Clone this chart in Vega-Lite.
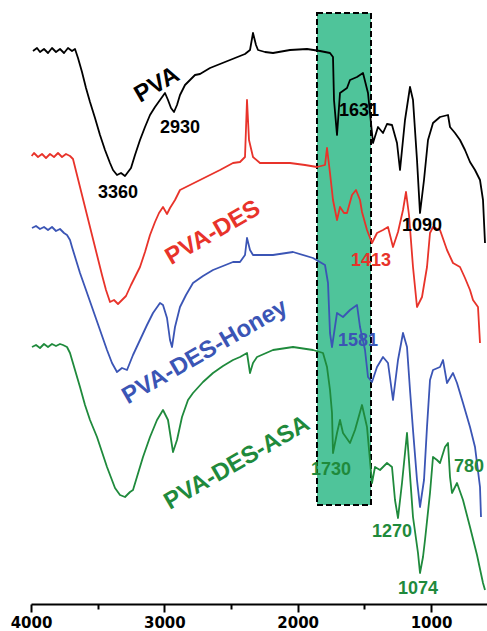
{
  "$schema": "https://vega.github.io/schema/vega-lite/v6.json",
  "width": 456,
  "height": 604,
  "autosize": {"type": "none"},
  "padding": {"left": 31, "top": 0, "right": 0, "bottom": 27},
  "background": "white",
  "config": {"view": {"stroke": null}},
  "datasets": {
    "box": [{"x1": 1855, "x2": 1450, "y1": 591, "y2": 99}],
    "spectra": [
      {"series": "PVA", "wn": 3985, "t": 553}, {"series": "PVA", "wn": 3955, "t": 556}, {"series": "PVA", "wn": 3932.5, "t": 552}, {"series": "PVA", "wn": 3902.5, "t": 555}, {"series": "PVA", "wn": 3872.5, "t": 551}, {"series": "PVA", "wn": 3842.5, "t": 556}, {"series": "PVA", "wn": 3812.5, "t": 552}, {"series": "PVA", "wn": 3782.5, "t": 555}, {"series": "PVA", "wn": 3752.5, "t": 551}, {"series": "PVA", "wn": 3722.5, "t": 556}, {"series": "PVA", "wn": 3692.5, "t": 553}, {"series": "PVA", "wn": 3670, "t": 555}, {"series": "PVA", "wn": 3647.5, "t": 546}, {"series": "PVA", "wn": 3617.5, "t": 532}, {"series": "PVA", "wn": 3587.5, "t": 516}, {"series": "PVA", "wn": 3557.5, "t": 502}, {"series": "PVA", "wn": 3520, "t": 486}, {"series": "PVA", "wn": 3482.5, "t": 469}, {"series": "PVA", "wn": 3445, "t": 454}, {"series": "PVA", "wn": 3407.5, "t": 441}, {"series": "PVA", "wn": 3385, "t": 434}, {"series": "PVA", "wn": 3355, "t": 429}, {"series": "PVA", "wn": 3325, "t": 431}, {"series": "PVA", "wn": 3295, "t": 428}, {"series": "PVA", "wn": 3272.5, "t": 432}, {"series": "PVA", "wn": 3250, "t": 436}, {"series": "PVA", "wn": 3220, "t": 449}, {"series": "PVA", "wn": 3182.5, "t": 464}, {"series": "PVA", "wn": 3145, "t": 477}, {"series": "PVA", "wn": 3107.5, "t": 489}, {"series": "PVA", "wn": 3070, "t": 497}, {"series": "PVA", "wn": 3032.5, "t": 504}, {"series": "PVA", "wn": 2995, "t": 511}, {"series": "PVA", "wn": 2972.5, "t": 504}, {"series": "PVA", "wn": 2950, "t": 496}, {"series": "PVA", "wn": 2927.5, "t": 492}, {"series": "PVA", "wn": 2905, "t": 499}, {"series": "PVA", "wn": 2882.5, "t": 509}, {"series": "PVA", "wn": 2845, "t": 519}, {"series": "PVA", "wn": 2807.5, "t": 524}, {"series": "PVA", "wn": 2770, "t": 529}, {"series": "PVA", "wn": 2732.5, "t": 530}, {"series": "PVA", "wn": 2657.5, "t": 536}, {"series": "PVA", "wn": 2582.5, "t": 540}, {"series": "PVA", "wn": 2507.5, "t": 544}, {"series": "PVA", "wn": 2432.5, "t": 548}, {"series": "PVA", "wn": 2395, "t": 550}, {"series": "PVA", "wn": 2357.5, "t": 554}, {"series": "PVA", "wn": 2335, "t": 571}, {"series": "PVA", "wn": 2312.5, "t": 559}, {"series": "PVA", "wn": 2297.5, "t": 554}, {"series": "PVA", "wn": 2245, "t": 552}, {"series": "PVA", "wn": 2185, "t": 551}, {"series": "PVA", "wn": 2057.5, "t": 554}, {"series": "PVA", "wn": 1930, "t": 555}, {"series": "PVA", "wn": 1832.5, "t": 553}, {"series": "PVA", "wn": 1757.5, "t": 551}, {"series": "PVA", "wn": 1735, "t": 547}, {"series": "PVA", "wn": 1727.5, "t": 504}, {"series": "PVA", "wn": 1705, "t": 469}, {"series": "PVA", "wn": 1682.5, "t": 511}, {"series": "PVA", "wn": 1630, "t": 516}, {"series": "PVA", "wn": 1607.5, "t": 524}, {"series": "PVA", "wn": 1555, "t": 527}, {"series": "PVA", "wn": 1510, "t": 531}, {"series": "PVA", "wn": 1472.5, "t": 511}, {"series": "PVA", "wn": 1435, "t": 461}, {"series": "PVA", "wn": 1397.5, "t": 477}, {"series": "PVA", "wn": 1360, "t": 471}, {"series": "PVA", "wn": 1330, "t": 480}, {"series": "PVA", "wn": 1292.5, "t": 479}, {"series": "PVA", "wn": 1255, "t": 461}, {"series": "PVA", "wn": 1232.5, "t": 434}, {"series": "PVA", "wn": 1195, "t": 484}, {"series": "PVA", "wn": 1157.5, "t": 517}, {"series": "PVA", "wn": 1135, "t": 504}, {"series": "PVA", "wn": 1105, "t": 444}, {"series": "PVA", "wn": 1082.5, "t": 391}, {"series": "PVA", "wn": 1052.5, "t": 424}, {"series": "PVA", "wn": 1022.5, "t": 464}, {"series": "PVA", "wn": 985, "t": 481}, {"series": "PVA", "wn": 932.5, "t": 487}, {"series": "PVA", "wn": 872.5, "t": 489}, {"series": "PVA", "wn": 857.5, "t": 477}, {"series": "PVA", "wn": 820, "t": 471}, {"series": "PVA", "wn": 782.5, "t": 464}, {"series": "PVA", "wn": 745, "t": 454}, {"series": "PVA", "wn": 707.5, "t": 442}, {"series": "PVA", "wn": 670, "t": 434}, {"series": "PVA", "wn": 632.5, "t": 424}, {"series": "PVA", "wn": 610, "t": 404}, {"series": "PVA", "wn": 595, "t": 361},

      {"series": "PVA-DES", "wn": 3995, "t": 448}, {"series": "PVA-DES", "wn": 3977.5, "t": 451}, {"series": "PVA-DES", "wn": 3947.5, "t": 447}, {"series": "PVA-DES", "wn": 3917.5, "t": 450}, {"series": "PVA-DES", "wn": 3887.5, "t": 446}, {"series": "PVA-DES", "wn": 3857.5, "t": 450}, {"series": "PVA-DES", "wn": 3827.5, "t": 447}, {"series": "PVA-DES", "wn": 3797.5, "t": 451}, {"series": "PVA-DES", "wn": 3767.5, "t": 447}, {"series": "PVA-DES", "wn": 3737.5, "t": 450}, {"series": "PVA-DES", "wn": 3707.5, "t": 448}, {"series": "PVA-DES", "wn": 3685, "t": 445}, {"series": "PVA-DES", "wn": 3655, "t": 429}, {"series": "PVA-DES", "wn": 3617.5, "t": 409}, {"series": "PVA-DES", "wn": 3580, "t": 389}, {"series": "PVA-DES", "wn": 3542.5, "t": 369}, {"series": "PVA-DES", "wn": 3505, "t": 349}, {"series": "PVA-DES", "wn": 3467.5, "t": 329}, {"series": "PVA-DES", "wn": 3437.5, "t": 314}, {"series": "PVA-DES", "wn": 3407.5, "t": 302}, {"series": "PVA-DES", "wn": 3377.5, "t": 304}, {"series": "PVA-DES", "wn": 3347.5, "t": 300}, {"series": "PVA-DES", "wn": 3317.5, "t": 304}, {"series": "PVA-DES", "wn": 3287.5, "t": 308}, {"series": "PVA-DES", "wn": 3250, "t": 319}, {"series": "PVA-DES", "wn": 3212.5, "t": 329}, {"series": "PVA-DES", "wn": 3182.5, "t": 337}, {"series": "PVA-DES", "wn": 3145, "t": 352}, {"series": "PVA-DES", "wn": 3107.5, "t": 369}, {"series": "PVA-DES", "wn": 3070, "t": 382}, {"series": "PVA-DES", "wn": 3040, "t": 391}, {"series": "PVA-DES", "wn": 3010, "t": 397}, {"series": "PVA-DES", "wn": 2980, "t": 390}, {"series": "PVA-DES", "wn": 2957.5, "t": 396}, {"series": "PVA-DES", "wn": 2920, "t": 404}, {"series": "PVA-DES", "wn": 2882.5, "t": 414}, {"series": "PVA-DES", "wn": 2807.5, "t": 419}, {"series": "PVA-DES", "wn": 2732.5, "t": 424}, {"series": "PVA-DES", "wn": 2657.5, "t": 429}, {"series": "PVA-DES", "wn": 2582.5, "t": 434}, {"series": "PVA-DES", "wn": 2485, "t": 441}, {"series": "PVA-DES", "wn": 2432.5, "t": 442}, {"series": "PVA-DES", "wn": 2395, "t": 447}, {"series": "PVA-DES", "wn": 2380, "t": 504}, {"series": "PVA-DES", "wn": 2365, "t": 464}, {"series": "PVA-DES", "wn": 2335, "t": 447}, {"series": "PVA-DES", "wn": 2282.5, "t": 441}, {"series": "PVA-DES", "wn": 2170, "t": 441}, {"series": "PVA-DES", "wn": 2057.5, "t": 441}, {"series": "PVA-DES", "wn": 1945, "t": 439}, {"series": "PVA-DES", "wn": 1855, "t": 437}, {"series": "PVA-DES", "wn": 1795, "t": 439}, {"series": "PVA-DES", "wn": 1780, "t": 456}, {"series": "PVA-DES", "wn": 1757.5, "t": 431}, {"series": "PVA-DES", "wn": 1735, "t": 404}, {"series": "PVA-DES", "wn": 1705, "t": 384}, {"series": "PVA-DES", "wn": 1682.5, "t": 397}, {"series": "PVA-DES", "wn": 1652.5, "t": 391}, {"series": "PVA-DES", "wn": 1630, "t": 391}, {"series": "PVA-DES", "wn": 1592.5, "t": 409}, {"series": "PVA-DES", "wn": 1562.5, "t": 414}, {"series": "PVA-DES", "wn": 1532.5, "t": 404}, {"series": "PVA-DES", "wn": 1517.5, "t": 392}, {"series": "PVA-DES", "wn": 1480, "t": 374}, {"series": "PVA-DES", "wn": 1442.5, "t": 361}, {"series": "PVA-DES", "wn": 1405, "t": 371}, {"series": "PVA-DES", "wn": 1360, "t": 374}, {"series": "PVA-DES", "wn": 1322.5, "t": 377}, {"series": "PVA-DES", "wn": 1285, "t": 357}, {"series": "PVA-DES", "wn": 1247.5, "t": 372}, {"series": "PVA-DES", "wn": 1210, "t": 394}, {"series": "PVA-DES", "wn": 1187.5, "t": 412}, {"series": "PVA-DES", "wn": 1165, "t": 389}, {"series": "PVA-DES", "wn": 1135, "t": 337}, {"series": "PVA-DES", "wn": 1105, "t": 297}, {"series": "PVA-DES", "wn": 1067.5, "t": 307}, {"series": "PVA-DES", "wn": 1030, "t": 337}, {"series": "PVA-DES", "wn": 1007.5, "t": 371}, {"series": "PVA-DES", "wn": 985, "t": 377}, {"series": "PVA-DES", "wn": 932.5, "t": 374}, {"series": "PVA-DES", "wn": 880, "t": 354}, {"series": "PVA-DES", "wn": 835, "t": 341}, {"series": "PVA-DES", "wn": 782.5, "t": 337}, {"series": "PVA-DES", "wn": 745, "t": 326}, {"series": "PVA-DES", "wn": 707.5, "t": 314}, {"series": "PVA-DES", "wn": 685, "t": 304}, {"series": "PVA-DES", "wn": 647.5, "t": 297}, {"series": "PVA-DES", "wn": 632.5, "t": 261},

      {"series": "PVA-DES-Honey", "wn": 3992.5, "t": 376}, {"series": "PVA-DES-Honey", "wn": 3962.5, "t": 378}, {"series": "PVA-DES-Honey", "wn": 3932.5, "t": 375}, {"series": "PVA-DES-Honey", "wn": 3902.5, "t": 377}, {"series": "PVA-DES-Honey", "wn": 3872.5, "t": 374}, {"series": "PVA-DES-Honey", "wn": 3842.5, "t": 377}, {"series": "PVA-DES-Honey", "wn": 3812.5, "t": 373}, {"series": "PVA-DES-Honey", "wn": 3782.5, "t": 375}, {"series": "PVA-DES-Honey", "wn": 3752.5, "t": 371}, {"series": "PVA-DES-Honey", "wn": 3730, "t": 369}, {"series": "PVA-DES-Honey", "wn": 3707.5, "t": 364}, {"series": "PVA-DES-Honey", "wn": 3692.5, "t": 357}, {"series": "PVA-DES-Honey", "wn": 3662.5, "t": 344}, {"series": "PVA-DES-Honey", "wn": 3632.5, "t": 331}, {"series": "PVA-DES-Honey", "wn": 3587.5, "t": 314}, {"series": "PVA-DES-Honey", "wn": 3535, "t": 294}, {"series": "PVA-DES-Honey", "wn": 3482.5, "t": 274}, {"series": "PVA-DES-Honey", "wn": 3430, "t": 254}, {"series": "PVA-DES-Honey", "wn": 3392.5, "t": 241}, {"series": "PVA-DES-Honey", "wn": 3355, "t": 232}, {"series": "PVA-DES-Honey", "wn": 3317.5, "t": 236}, {"series": "PVA-DES-Honey", "wn": 3280, "t": 234}, {"series": "PVA-DES-Honey", "wn": 3235, "t": 249}, {"series": "PVA-DES-Honey", "wn": 3182.5, "t": 264}, {"series": "PVA-DES-Honey", "wn": 3130, "t": 279}, {"series": "PVA-DES-Honey", "wn": 3085, "t": 291}, {"series": "PVA-DES-Honey", "wn": 3032.5, "t": 301}, {"series": "PVA-DES-Honey", "wn": 3010, "t": 299}, {"series": "PVA-DES-Honey", "wn": 2980, "t": 286}, {"series": "PVA-DES-Honey", "wn": 2957.5, "t": 264}, {"series": "PVA-DES-Honey", "wn": 2942.5, "t": 257}, {"series": "PVA-DES-Honey", "wn": 2920, "t": 277}, {"series": "PVA-DES-Honey", "wn": 2882.5, "t": 297}, {"series": "PVA-DES-Honey", "wn": 2837.5, "t": 309}, {"series": "PVA-DES-Honey", "wn": 2785, "t": 321}, {"series": "PVA-DES-Honey", "wn": 2710, "t": 328}, {"series": "PVA-DES-Honey", "wn": 2635, "t": 334}, {"series": "PVA-DES-Honey", "wn": 2560, "t": 338}, {"series": "PVA-DES-Honey", "wn": 2485, "t": 342}, {"series": "PVA-DES-Honey", "wn": 2432.5, "t": 342}, {"series": "PVA-DES-Honey", "wn": 2395, "t": 349}, {"series": "PVA-DES-Honey", "wn": 2380, "t": 366}, {"series": "PVA-DES-Honey", "wn": 2357.5, "t": 354}, {"series": "PVA-DES-Honey", "wn": 2335, "t": 349}, {"series": "PVA-DES-Honey", "wn": 2185, "t": 349}, {"series": "PVA-DES-Honey", "wn": 2035, "t": 352}, {"series": "PVA-DES-Honey", "wn": 1885, "t": 346}, {"series": "PVA-DES-Honey", "wn": 1795, "t": 339}, {"series": "PVA-DES-Honey", "wn": 1772.5, "t": 321}, {"series": "PVA-DES-Honey", "wn": 1757.5, "t": 271}, {"series": "PVA-DES-Honey", "wn": 1742.5, "t": 257}, {"series": "PVA-DES-Honey", "wn": 1705, "t": 291}, {"series": "PVA-DES-Honey", "wn": 1660, "t": 287}, {"series": "PVA-DES-Honey", "wn": 1607.5, "t": 294}, {"series": "PVA-DES-Honey", "wn": 1555, "t": 299}, {"series": "PVA-DES-Honey", "wn": 1532.5, "t": 277}, {"series": "PVA-DES-Honey", "wn": 1495, "t": 254}, {"series": "PVA-DES-Honey", "wn": 1472.5, "t": 227}, {"series": "PVA-DES-Honey", "wn": 1442.5, "t": 222}, {"series": "PVA-DES-Honey", "wn": 1405, "t": 237}, {"series": "PVA-DES-Honey", "wn": 1360, "t": 247}, {"series": "PVA-DES-Honey", "wn": 1322.5, "t": 241}, {"series": "PVA-DES-Honey", "wn": 1285, "t": 204}, {"series": "PVA-DES-Honey", "wn": 1247.5, "t": 244}, {"series": "PVA-DES-Honey", "wn": 1210, "t": 271}, {"series": "PVA-DES-Honey", "wn": 1180, "t": 257}, {"series": "PVA-DES-Honey", "wn": 1157.5, "t": 214}, {"series": "PVA-DES-Honey", "wn": 1135, "t": 174}, {"series": "PVA-DES-Honey", "wn": 1105, "t": 124}, {"series": "PVA-DES-Honey", "wn": 1082.5, "t": 97}, {"series": "PVA-DES-Honey", "wn": 1052.5, "t": 124}, {"series": "PVA-DES-Honey", "wn": 1030, "t": 177}, {"series": "PVA-DES-Honey", "wn": 1007.5, "t": 224}, {"series": "PVA-DES-Honey", "wn": 985, "t": 234}, {"series": "PVA-DES-Honey", "wn": 932.5, "t": 237}, {"series": "PVA-DES-Honey", "wn": 910, "t": 244}, {"series": "PVA-DES-Honey", "wn": 880, "t": 221}, {"series": "PVA-DES-Honey", "wn": 835, "t": 231}, {"series": "PVA-DES-Honey", "wn": 805, "t": 221}, {"series": "PVA-DES-Honey", "wn": 760, "t": 201}, {"series": "PVA-DES-Honey", "wn": 707.5, "t": 177}, {"series": "PVA-DES-Honey", "wn": 670, "t": 157}, {"series": "PVA-DES-Honey", "wn": 632.5, "t": 117}, {"series": "PVA-DES-Honey", "wn": 625, "t": 87},

      {"series": "PVA-DES-ASA", "wn": 3992.5, "t": 257}, {"series": "PVA-DES-ASA", "wn": 3962.5, "t": 259}, {"series": "PVA-DES-ASA", "wn": 3932.5, "t": 256}, {"series": "PVA-DES-ASA", "wn": 3902.5, "t": 260}, {"series": "PVA-DES-ASA", "wn": 3872.5, "t": 257}, {"series": "PVA-DES-ASA", "wn": 3842.5, "t": 260}, {"series": "PVA-DES-ASA", "wn": 3812.5, "t": 258}, {"series": "PVA-DES-ASA", "wn": 3782.5, "t": 260}, {"series": "PVA-DES-ASA", "wn": 3760, "t": 259}, {"series": "PVA-DES-ASA", "wn": 3730, "t": 257}, {"series": "PVA-DES-ASA", "wn": 3707.5, "t": 251}, {"series": "PVA-DES-ASA", "wn": 3670, "t": 234}, {"series": "PVA-DES-ASA", "wn": 3632.5, "t": 217}, {"series": "PVA-DES-ASA", "wn": 3595, "t": 199}, {"series": "PVA-DES-ASA", "wn": 3557.5, "t": 184}, {"series": "PVA-DES-ASA", "wn": 3505, "t": 167}, {"series": "PVA-DES-ASA", "wn": 3430, "t": 137}, {"series": "PVA-DES-ASA", "wn": 3370, "t": 116}, {"series": "PVA-DES-ASA", "wn": 3332.5, "t": 109}, {"series": "PVA-DES-ASA", "wn": 3295, "t": 107}, {"series": "PVA-DES-ASA", "wn": 3257.5, "t": 112}, {"series": "PVA-DES-ASA", "wn": 3235, "t": 114}, {"series": "PVA-DES-ASA", "wn": 3160, "t": 147}, {"series": "PVA-DES-ASA", "wn": 3107.5, "t": 167}, {"series": "PVA-DES-ASA", "wn": 3055, "t": 184}, {"series": "PVA-DES-ASA", "wn": 3010, "t": 194}, {"series": "PVA-DES-ASA", "wn": 2972.5, "t": 184}, {"series": "PVA-DES-ASA", "wn": 2935, "t": 152}, {"series": "PVA-DES-ASA", "wn": 2905, "t": 164}, {"series": "PVA-DES-ASA", "wn": 2867.5, "t": 187}, {"series": "PVA-DES-ASA", "wn": 2822.5, "t": 204}, {"series": "PVA-DES-ASA", "wn": 2785, "t": 211}, {"series": "PVA-DES-ASA", "wn": 2710, "t": 222}, {"series": "PVA-DES-ASA", "wn": 2635, "t": 231}, {"series": "PVA-DES-ASA", "wn": 2560, "t": 238}, {"series": "PVA-DES-ASA", "wn": 2485, "t": 244}, {"series": "PVA-DES-ASA", "wn": 2432.5, "t": 247}, {"series": "PVA-DES-ASA", "wn": 2380, "t": 251}, {"series": "PVA-DES-ASA", "wn": 2357.5, "t": 231}, {"series": "PVA-DES-ASA", "wn": 2335, "t": 241}, {"series": "PVA-DES-ASA", "wn": 2305, "t": 247}, {"series": "PVA-DES-ASA", "wn": 2185, "t": 254}, {"series": "PVA-DES-ASA", "wn": 2035, "t": 257}, {"series": "PVA-DES-ASA", "wn": 1885, "t": 254}, {"series": "PVA-DES-ASA", "wn": 1810, "t": 251}, {"series": "PVA-DES-ASA", "wn": 1780, "t": 237}, {"series": "PVA-DES-ASA", "wn": 1757.5, "t": 214}, {"series": "PVA-DES-ASA", "wn": 1742.5, "t": 191}, {"series": "PVA-DES-ASA", "wn": 1735, "t": 151}, {"series": "PVA-DES-ASA", "wn": 1705, "t": 171}, {"series": "PVA-DES-ASA", "wn": 1682.5, "t": 184}, {"series": "PVA-DES-ASA", "wn": 1660, "t": 171}, {"series": "PVA-DES-ASA", "wn": 1607.5, "t": 161}, {"series": "PVA-DES-ASA", "wn": 1570, "t": 174}, {"series": "PVA-DES-ASA", "wn": 1517.5, "t": 199}, {"series": "PVA-DES-ASA", "wn": 1480, "t": 177}, {"series": "PVA-DES-ASA", "wn": 1442.5, "t": 121}, {"series": "PVA-DES-ASA", "wn": 1420, "t": 137}, {"series": "PVA-DES-ASA", "wn": 1382.5, "t": 134}, {"series": "PVA-DES-ASA", "wn": 1330, "t": 141}, {"series": "PVA-DES-ASA", "wn": 1292.5, "t": 137}, {"series": "PVA-DES-ASA", "wn": 1270, "t": 104}, {"series": "PVA-DES-ASA", "wn": 1247.5, "t": 86}, {"series": "PVA-DES-ASA", "wn": 1217.5, "t": 121}, {"series": "PVA-DES-ASA", "wn": 1180, "t": 171}, {"series": "PVA-DES-ASA", "wn": 1135, "t": 87}, {"series": "PVA-DES-ASA", "wn": 1097.5, "t": 51}, {"series": "PVA-DES-ASA", "wn": 1082.5, "t": 31}, {"series": "PVA-DES-ASA", "wn": 1060, "t": 47}, {"series": "PVA-DES-ASA", "wn": 1045, "t": 64}, {"series": "PVA-DES-ASA", "wn": 1007.5, "t": 111}, {"series": "PVA-DES-ASA", "wn": 985, "t": 147}, {"series": "PVA-DES-ASA", "wn": 955, "t": 144}, {"series": "PVA-DES-ASA", "wn": 932.5, "t": 141}, {"series": "PVA-DES-ASA", "wn": 895, "t": 157}, {"series": "PVA-DES-ASA", "wn": 872.5, "t": 161}, {"series": "PVA-DES-ASA", "wn": 857.5, "t": 127}, {"series": "PVA-DES-ASA", "wn": 842.5, "t": 111}, {"series": "PVA-DES-ASA", "wn": 805, "t": 121}, {"series": "PVA-DES-ASA", "wn": 760, "t": 104}, {"series": "PVA-DES-ASA", "wn": 707.5, "t": 77}, {"series": "PVA-DES-ASA", "wn": 655, "t": 49}, {"series": "PVA-DES-ASA", "wn": 610, "t": 21}, {"series": "PVA-DES-ASA", "wn": 595, "t": 14}
    ],
    "names": [
      {"series": "PVA", "label": "PVA", "wn": 3055, "t": 519},
      {"series": "PVA-DES", "label": "PVA-DES", "wn": 2635, "t": 371},
      {"series": "PVA-DES-Honey", "label": "PVA-DES-Honey", "wn": 2695, "t": 252},
      {"series": "PVA-DES-ASA", "label": "PVA-DES-ASA", "wn": 2455, "t": 141}
    ],
    "peaks": [
      {"series": "PVA", "label": "3360", "wn": 3347.5, "t": 411},
      {"series": "PVA", "label": "2930", "wn": 2882.5, "t": 476},
      {"series": "PVA", "label": "1631", "wn": 1540, "t": 493},
      {"series": "PVA", "label": "1090", "wn": 1067.5, "t": 378},
      {"series": "PVA-DES", "label": "1413", "wn": 1450, "t": 343},
      {"series": "PVA-DES-Honey", "label": "1581", "wn": 1547.5, "t": 263},
      {"series": "PVA-DES-ASA", "label": "1730", "wn": 1750, "t": 134},
      {"series": "PVA-DES-ASA", "label": "1270", "wn": 1292.5, "t": 72},
      {"series": "PVA-DES-ASA", "label": "1074", "wn": 1097.5, "t": 15},
      {"series": "PVA-DES-ASA", "label": "780", "wn": 715, "t": 137}
    ]
  },
  "layer": [
    {
      "data": {"name": "box"},
      "mark": {"type": "rect", "fill": "#4fc49a", "stroke": "#000000", "strokeWidth": 2, "strokeDash": [6, 3]},
      "encoding": {
        "x": {"field": "x1", "type": "quantitative", "scale": {"domain": [580, 4000], "reverse": true, "nice": false, "zero": false},
          "axis": {
            "values": [4000, 3500, 3000, 2500, 2000, 1500, 1000],
            "labelExpr": "datum.value % 1000 === 0 ? datum.label : ''",
            "format": "d",
            "title": null,
            "grid": false,
            "domainColor": "#000000",
            "domainWidth": 2,
            "tickColor": "#000000",
            "tickWidth": 2,
            "tickSize": {"condition": {"test": "datum.value % 1000 === 0", "value": 8}, "value": 5},
            "labelFont": "DejaVu Sans",
            "labelFontWeight": "bold",
            "labelFontSize": 15,
            "labelColor": "#000000",
            "labelPadding": 3,
            "labelFlush": false,
            "labelOverlap": false
          }},
        "x2": {"field": "x2"},
        "y": {"field": "y1", "type": "quantitative", "scale": {"domain": [0, 604], "nice": false, "zero": false}, "axis": null},
        "y2": {"field": "y2"}
      }
    },
    {
      "data": {"name": "spectra"},
      "mark": {"type": "line", "strokeWidth": 1.8, "strokeJoin": "round"},
      "encoding": {
        "x": {"field": "wn", "type": "quantitative"},
        "y": {"field": "t", "type": "quantitative"},
        "color": {"field": "series", "type": "nominal", "legend": null,
          "scale": {"domain": ["PVA", "PVA-DES", "PVA-DES-Honey", "PVA-DES-ASA"], "range": ["#000000", "#e8332a", "#3b55b5", "#1f8a3c"]}}
      }
    },
    {
      "data": {"name": "names"},
      "mark": {"type": "text", "angle": -30, "font": "Liberation Sans", "fontWeight": "bold", "fontSize": 24, "align": "center", "baseline": "middle"},
      "encoding": {
        "x": {"field": "wn", "type": "quantitative"},
        "y": {"field": "t", "type": "quantitative"},
        "text": {"field": "label"},
        "color": {"field": "series", "type": "nominal", "legend": null}
      }
    },
    {
      "data": {"name": "peaks"},
      "mark": {"type": "text", "font": "Liberation Sans", "fontWeight": "bold", "fontSize": 18, "align": "center", "baseline": "middle"},
      "encoding": {
        "x": {"field": "wn", "type": "quantitative"},
        "y": {"field": "t", "type": "quantitative"},
        "text": {"field": "label"},
        "color": {"field": "series", "type": "nominal", "legend": null}
      }
    }
  ]
}
